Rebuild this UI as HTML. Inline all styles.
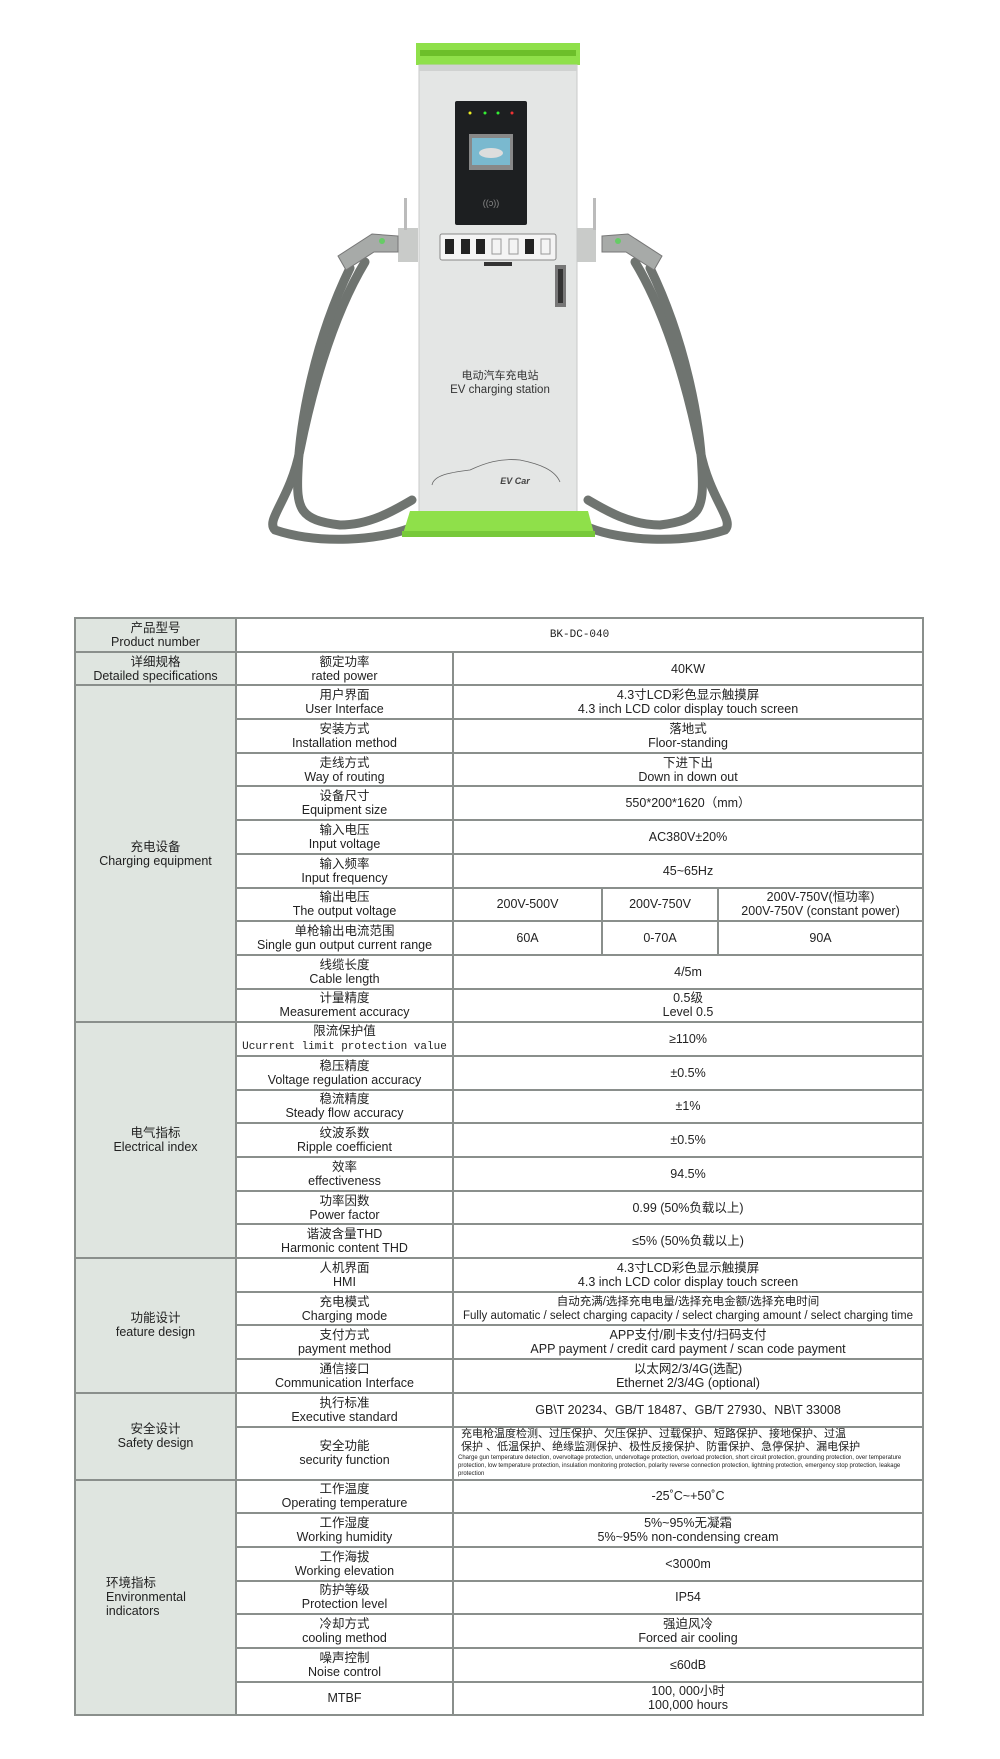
<!DOCTYPE html>
<html><head><meta charset="utf-8">
<style>
html,body{margin:0;padding:0;background:#fff;}
body{width:1000px;height:1759px;position:relative;overflow:hidden;font-family:"Liberation Sans","Noto Sans CJK SC",sans-serif;color:#222;}
table{position:absolute;left:74px;top:617px;width:848px;border-collapse:collapse;table-layout:fixed;}
td{border:2px solid #8a8f8c;text-align:center;vertical-align:middle;font-size:12.5px;line-height:14px;padding:0;overflow:hidden;white-space:nowrap;}
td.g{background:#dfe5e0;}
tr{height:33.7px;}
.small{font-size:6px;line-height:8px;white-space:normal;text-align:left;padding-left:4px;}
.m{font-family:"Liberation Mono","Noto Sans CJK SC",monospace;font-size:11px;}
</style></head><body>
<svg width="1000" height="600" style="position:absolute;left:0;top:0">
  <!-- cables -->
  <g fill="none" stroke="#6f7470" stroke-width="9" stroke-linecap="round">
    <path d="M365 262 C330 320 310 400 300 450 C290 500 265 520 275 530 C320 545 380 540 410 528"/>
    <path d="M350 268 C315 340 300 420 298 470 C296 510 300 520 340 525 C370 525 395 510 412 500"/>
    <path d="M635 262 C670 320 690 400 700 450 C710 500 735 520 725 530 C680 545 620 540 590 528"/>
    <path d="M650 268 C685 340 700 420 702 470 C704 510 700 520 660 525 C630 525 605 510 588 500"/>
  </g>
  <!-- brackets -->
  <rect x="398" y="228" width="20" height="34" fill="#c9cbc9"/>
  <rect x="576" y="228" width="20" height="34" fill="#c9cbc9"/>
  <rect x="404" y="198" width="3" height="32" fill="#bbb"/>
  <rect x="593" y="198" width="3" height="32" fill="#bbb"/>
  <!-- guns -->
  <path d="M398 236 L372 234 L338 256 L346 270 L374 252 L398 252 Z" fill="#a7aaa8" stroke="#777"/>
  <path d="M602 236 L628 234 L662 256 L654 270 L626 252 L602 252 Z" fill="#a7aaa8" stroke="#777"/>
  <circle cx="382" cy="241" r="3" fill="#6c6"/>
  <circle cx="618" cy="241" r="3" fill="#6c6"/>
  <!-- cap -->
  <rect x="416" y="43" width="164" height="22" fill="#8fe04a"/>
  <rect x="420" y="50" width="156" height="6" fill="#6cbf2a"/>
  <!-- body -->
  <rect x="419" y="65" width="158" height="448" fill="#e4e6e5" stroke="#c8cac9"/>
  <rect x="419" y="65" width="158" height="6" fill="#d0d2d1"/>
  <!-- screen panel -->
  <rect x="455" y="101" width="72" height="124" rx="2" fill="#1d1f21"/>
  <circle cx="470" cy="113" r="1.5" fill="#ee2"/><circle cx="485" cy="113" r="1.5" fill="#3e3"/>
  <circle cx="498" cy="113" r="1.5" fill="#3e3"/><circle cx="512" cy="113" r="1.5" fill="#e33"/>
  <rect x="469" y="134" width="44" height="36" fill="#888"/>
  <rect x="472" y="138" width="38" height="27" fill="#7ab9cf"/>
  <ellipse cx="491" cy="153" rx="12" ry="5" fill="#ddd"/>
  <text x="491" y="206" font-size="9" fill="#888" text-anchor="middle">((ↄ))</text>
  <!-- button panel -->
  <rect x="440" y="234" width="116" height="26" rx="2" fill="#f4f4f4" stroke="#888"/>
  <g fill="#222"><rect x="445" y="239" width="9" height="15"/><rect x="461" y="239" width="9" height="15"/><rect x="476" y="239" width="9" height="15"/><rect x="525" y="239" width="9" height="15"/></g>
  <g fill="none" stroke="#999"><rect x="492" y="239" width="9" height="15"/><rect x="509" y="239" width="9" height="15"/><rect x="541" y="239" width="9" height="15"/></g>
  <rect x="484" y="262" width="28" height="4" fill="#333"/>
  <rect x="555" y="265" width="11" height="42" fill="#777"/>
  <rect x="558" y="269" width="5" height="34" fill="#333"/>
  <!-- labels -->
  <text x="500" y="379" font-size="11" fill="#333" text-anchor="middle">电动汽车充电站</text>
  <text x="500" y="393" font-size="11.5" fill="#333" text-anchor="middle">EV charging station</text>
  <path d="M432 485 C434 474 455 472 470 470 C485 463 500 458 520 460 C540 464 555 470 560 482" fill="none" stroke="#666" stroke-width="0.8"/>
  <text x="515" y="484" font-size="9" fill="#444" text-anchor="middle" font-style="italic" font-weight="bold">EV Car</text>
  <!-- base -->
  <polygon points="410,511 588,511 595,537 402,537" fill="#8fe04a"/>
  <rect x="402" y="531" width="193" height="6" fill="#78c93a"/>
</svg>

<table>
<colgroup><col style="width:161px"><col style="width:217px"><col style="width:149px"><col style="width:116px"><col style="width:205px"></colgroup>
<tr><td class="g">产品型号<br>Product number</td><td colspan="4" class="m">BK-DC-040</td></tr>
<tr><td class="g">详细规格<br>Detailed specifications</td><td>额定功率<br>rated power</td><td colspan="3">40KW</td></tr>
<tr><td class="g" rowspan="10">充电设备<br>Charging equipment</td><td>用户界面<br>User Interface</td><td colspan="3">4.3寸LCD彩色显示触摸屏<br>4.3 inch LCD color display touch screen</td></tr>
<tr><td>安装方式<br>Installation method</td><td colspan="3">落地式<br>Floor-standing</td></tr>
<tr><td>走线方式<br>Way of routing</td><td colspan="3">下进下出<br>Down in down out</td></tr>
<tr><td>设备尺寸<br>Equipment size</td><td colspan="3">550*200*1620（mm）</td></tr>
<tr><td>输入电压<br>Input voltage</td><td colspan="3">AC380V±20%</td></tr>
<tr><td>输入频率<br>Input frequency</td><td colspan="3">45~65Hz</td></tr>
<tr><td>输出电压<br>The output voltage</td><td>200V-500V</td><td>200V-750V</td><td>200V-750V(恒功率)<br>200V-750V (constant power)</td></tr>
<tr><td>单枪输出电流范围<br>Single gun output current range</td><td>60A</td><td>0-70A</td><td>90A</td></tr>
<tr><td>线缆长度<br>Cable length</td><td colspan="3">4/5m</td></tr>
<tr><td>计量精度<br>Measurement accuracy</td><td colspan="3">0.5级<br>Level 0.5</td></tr>
<tr><td class="g" rowspan="7">电气指标<br>Electrical index</td><td>限流保护值<br><span class="m">Ucurrent limit protection value</span></td><td colspan="3">≥110%</td></tr>
<tr><td>稳压精度<br>Voltage regulation accuracy</td><td colspan="3">±0.5%</td></tr>
<tr><td>稳流精度<br>Steady flow accuracy</td><td colspan="3">±1%</td></tr>
<tr><td>纹波系数<br>Ripple coefficient</td><td colspan="3">±0.5%</td></tr>
<tr><td>效率<br>effectiveness</td><td colspan="3">94.5%</td></tr>
<tr><td>功率因数<br>Power factor</td><td colspan="3">0.99 (50%负载以上)</td></tr>
<tr><td>谐波含量THD<br>Harmonic content THD</td><td colspan="3">≤5% (50%负载以上)</td></tr>
<tr><td class="g" rowspan="4">功能设计<br>feature design</td><td>人机界面<br>HMI</td><td colspan="3">4.3寸LCD彩色显示触摸屏<br>4.3 inch LCD color display touch screen</td></tr>
<tr><td>充电模式<br>Charging mode</td><td colspan="3" style="font-size:11.5px">自动充满/选择充电电量/选择充电金额/选择充电时间<br>Fully automatic / select charging capacity / select charging amount / select charging time</td></tr>
<tr><td>支付方式<br>payment method</td><td colspan="3">APP支付/刷卡支付/扫码支付<br>APP payment / credit card payment / scan code payment</td></tr>
<tr><td>通信接口<br>Communication Interface</td><td colspan="3">以太网2/3/4G(选配)<br>Ethernet 2/3/4G (optional)</td></tr>
<tr><td class="g" rowspan="2">安全设计<br>Safety design</td><td>执行标准<br>Executive standard</td><td colspan="3">GB\T 20234、GB/T 18487、GB/T 27930、NB\T 33008</td></tr>
<tr style="height:53px"><td>安全功能<br>security function</td><td colspan="3" class="small"><span style="font-size:11px;line-height:13px">&nbsp;充电枪温度检测、过压保护、欠压保护、过载保护、短路保护、接地保护、过温<br>&nbsp;保护 、低温保护、绝缘监测保护、极性反接保护、防雷保护、急停保护、漏电保护</span><br>Charge gun temperature detection, overvoltage protection, undervoltage protection, overload protection, short circuit protection, grounding protection, over temperature protection, low temperature protection, insulation monitoring protection, polarity reverse connection protection, lightning protection, emergency stop protection, leakage protection</td></tr>
<tr><td class="g" rowspan="7" style="text-align:left;padding-left:30px">环境指标<br>Environmental<br>indicators</td><td>工作温度<br>Operating temperature</td><td colspan="3">-25˚C~+50˚C</td></tr>
<tr><td>工作湿度<br>Working humidity</td><td colspan="3">5%~95%无凝霜<br>5%~95% non-condensing cream</td></tr>
<tr><td>工作海拔<br>Working elevation</td><td colspan="3">&lt;3000m</td></tr>
<tr><td>防护等级<br>Protection level</td><td colspan="3">IP54</td></tr>
<tr><td>冷却方式<br>cooling method</td><td colspan="3">强迫风冷<br>Forced air cooling</td></tr>
<tr><td>噪声控制<br>Noise control</td><td colspan="3">≤60dB</td></tr>
<tr><td>MTBF</td><td colspan="3">100, 000小时<br>100,000 hours</td></tr>
</table>
</body></html>
